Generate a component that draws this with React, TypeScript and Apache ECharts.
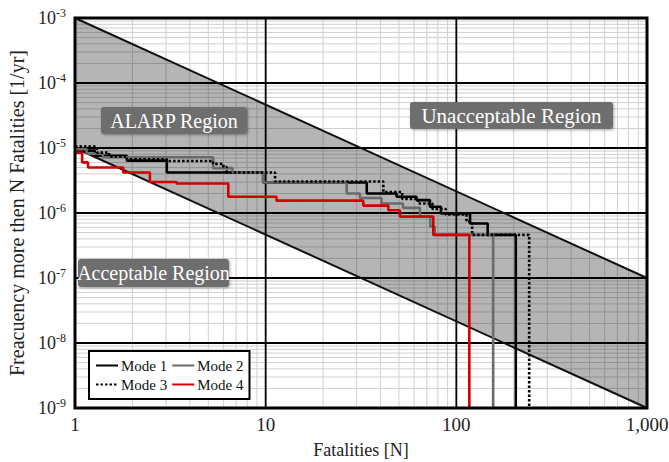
import React, { useEffect, useRef } from "react";
import * as echarts from "echarts";

// F-N step curves: [N fatalities, frequency of >= N fatalities per year]
const mode1: [number, number][] = [
  [1, 9.1e-6], [1.27, 7.6e-6], [1.87, 6.4e-6], [3.03, 4.2e-6], [9.7, 2.95e-6],
  [33.9, 2.0e-6], [48.6, 1.78e-6], [61.9, 1.58e-6], [72.7, 1.25e-6], [83, 9.8e-7],
  [118, 6.9e-7], [146, 4.6e-7], [205, 4.6e-7], [205, 1e-9],
];
const mode2: [number, number][] = [
  [1, 9.6e-6], [1.15, 8.2e-6], [1.4, 7.2e-6], [5.3, 4.9e-6], [6.7, 4.2e-6],
  [9.7, 2.95e-6], [26.6, 2.0e-6], [31.2, 1.7e-6], [40.5, 1.4e-6], [52.5, 1.2e-6],
  [64.4, 8.8e-7], [73, 6.2e-7], [77, 4.6e-7], [156, 4.6e-7], [156, 1e-9],
];
const mode3: [number, number][] = [
  [1, 1.05e-5], [1.3, 8.5e-6], [1.51, 7.4e-6], [1.87, 6.7e-6], [3.03, 6.3e-6],
  [5.3, 5.7e-6], [6.0, 5.1e-6], [6.25, 4.2e-6], [11.2, 3.05e-6], [41.4, 2.1e-6],
  [52, 1.65e-6], [63, 1.4e-6], [75, 1.15e-6], [88, 9.5e-7], [113, 7.4e-7],
  [121, 4.6e-7], [241, 4.6e-7], [241, 1e-9],
];
const mode4: [number, number][] = [
  [1, 8.5e-6], [1.09, 6.0e-6], [1.17, 5.0e-6], [1.79, 4.2e-6], [2.47, 3.0e-6],
  [3.41, 2.85e-6], [6.37, 1.78e-6], [11.4, 1.55e-6], [32.5, 1.3e-6], [44, 1.1e-6],
  [50.6, 8.8e-7], [75.7, 4.6e-7], [117, 4.6e-7], [117, 1e-9],
];

// ALARP band criterion lines
const upperLine: [number, number][] = [[1, 1e-3], [1000, 1e-7]];
const lowerLine: [number, number][] = [[1, 1e-5], [1000, 1e-9]];

const xMin = 1, xMax = 1000, yMin = 1e-9, yMax = 1e-3;
const xDecades = [1, 10, 100];
const yDecades = [1e-9, 1e-8, 1e-7, 1e-6, 1e-5, 1e-4];
const minorMultipliers = [2, 3, 4, 5, 6, 7, 8, 9];
const xTickLabels: Record<number, string> = { 1: "1", 10: "10", 100: "100", 1000: "1,000" };

const seriesNames = ["Mode 1", "Mode 2", "Mode 3", "Mode 4"];

const FONT = "'Liberation Serif', 'DejaVu Serif', serif";

function vLines(name: string, values: number[], color: string, width: number, z: number) {
  return {
    type: "custom", name, silent: true, z,
    data: values.map((v) => [v, yMin]),
    renderItem: (_p: any, api: any) => {
      const a = api.coord([api.value(0), yMin]);
      const b = api.coord([api.value(0), yMax]);
      return { type: "line", shape: { x1: a[0], y1: a[1], x2: b[0], y2: b[1] }, style: { stroke: color, lineWidth: width } };
    },
  };
}
function hLines(name: string, values: number[], color: string, width: number, z: number) {
  return {
    type: "custom", name, silent: true, z,
    data: values.map((v) => [xMin, v]),
    renderItem: (_p: any, api: any) => {
      const a = api.coord([xMin, api.value(1)]);
      const b = api.coord([xMax, api.value(1)]);
      return { type: "line", shape: { x1: a[0], y1: a[1], x2: b[0], y2: b[1] }, style: { stroke: color, lineWidth: width } };
    },
  };
}

export default function App() {
  const ref = useRef<HTMLDivElement>(null);
  useEffect(() => {
    if (!ref.current) return;
    const chart = echarts.init(ref.current, undefined, { renderer: "svg" });

    const minorX: number[] = [];
    xDecades.forEach((d) => minorMultipliers.forEach((m) => minorX.push(d * m)));
    const minorY: number[] = [];
    yDecades.forEach((d) => minorMultipliers.forEach((m) => minorY.push(d * m)));

    const option: any = {
      animation: false,
      backgroundColor: "#fff",
      grid: {
        left: 75, right: 22, top: 18, bottom: 54,
        containLabel: false, outerBoundsMode: "none",
        show: true, borderColor: "#000", borderWidth: 3, backgroundColor: "transparent", z: 10,
      },
      xAxis: {
        type: "log", logBase: 10, min: xMin, max: xMax, splitNumber: 3,
        name: "Fatalities [N]", nameLocation: "middle", nameGap: 33,
        nameTextStyle: { fontFamily: FONT, fontSize: 18, color: "#222" },
        axisLine: { show: false }, axisTick: { show: false },
        axisLabel: {
          fontFamily: FONT, fontSize: 19, color: "#222", margin: 7,
          formatter: (v: number) => xTickLabels[Math.round(v)] ?? String(v),
        },
        splitLine: { show: false },
      },
      yAxis: {
        type: "log", logBase: 10, min: yMin, max: yMax, splitNumber: 6,
        name: "Freacuency more then N Fatalities [1/yr]", nameLocation: "middle", nameGap: 45,
        nameTextStyle: { fontFamily: FONT, fontSize: 20, color: "#222" },
        axisLine: { show: false }, axisTick: { show: false },
        axisLabel: {
          margin: 9, color: "#222",
          formatter: (v: number) => `{b|10}{s|${Math.round(Math.log10(v))}}`,
          rich: {
            b: { fontFamily: FONT, fontSize: 18, color: "#222" },
            s: { fontFamily: FONT, fontSize: 12, color: "#222", padding: [0, 0, 10, 0] },
          },
        },
        splitLine: { show: false },
      },
      legend: {
        data: seriesNames,
        left: 89, top: 351, width: 150,
        padding: [7, 6, 7, 6], itemGap: 4,
        itemWidth: 22, itemHeight: 10,
        itemStyle: { opacity: 0 },
        borderColor: "#000", borderWidth: 2, backgroundColor: "#fff",
        textStyle: { fontFamily: FONT, fontSize: 15, color: "#111", padding: [0, 0, 0, -2] },
        z: 20,
      },
      series: [
        vLines("minorX", minorX, "#cfcfcf", 1, 1),
        hLines("minorY", minorY, "#cfcfcf", 1, 1),
        vLines("majorX", xDecades.slice(1), "#000", 1.8, 1.5),
        hLines("majorY", yDecades.slice(1), "#000", 1.8, 1.5),
        {
          type: "custom", name: "band", silent: true, z: 2,
          data: [[xMin, yMax]],
          renderItem: (_p: any, api: any) => {
            const pts = [upperLine[0], upperLine[1], lowerLine[1], lowerLine[0]].map((p) => api.coord(p));
            return { type: "polygon", shape: { points: pts }, style: { fill: "rgba(0,0,0,0.29)" } };
          },
        },
        {
          type: "line", name: "upper", data: upperLine, symbol: "none", z: 3, silent: true,
          lineStyle: { color: "#111", width: 2 },
        },
        {
          type: "line", name: "lower", data: lowerLine, symbol: "none", z: 3, silent: true,
          lineStyle: { color: "#111", width: 2 },
        },
        {
          type: "line", name: "Mode 1", data: mode1, step: "end", symbol: "none", z: 5,
          color: "#000", lineStyle: { color: "#000", width: 2.6 },
        },
        {
          type: "line", name: "Mode 2", data: mode2, step: "end", symbol: "none", z: 6,
          color: "#6a6a6a", lineStyle: { color: "#6a6a6a", width: 2.6 },
        },
        {
          type: "line", name: "Mode 3", data: mode3, step: "end", symbol: "none", z: 7,
          color: "#000", lineStyle: { color: "#000", width: 2.6, type: [2.5, 2] },
        },
        {
          type: "line", name: "Mode 4", data: mode4, step: "end", symbol: "none", z: 8,
          color: "#d20000", lineStyle: { color: "#d20000", width: 2.6 },
        },
      ],
      graphic: [
        { x: 101, y: 107, w: 146, h: 27, t: "ALARP Region", fs: 20 },
        { x: 410, y: 102, w: 203, h: 27, t: "Unacceptable Region", fs: 21 },
        { x: 78, y: 259, w: 151, h: 28, t: "Acceptable Region", fs: 20 },
      ].map((b) => ({
        type: "group", x: b.x, y: b.y, z: 100,
        children: [
          {
            type: "rect", z: 100, shape: { x: 0, y: 0, width: b.w, height: b.h, r: 3 },
            style: { fill: "#6e6e6e", shadowBlur: 3, shadowColor: "rgba(0,0,0,0.35)", shadowOffsetX: 1, shadowOffsetY: 1 },
          },
          {
            type: "text", z: 101, x: b.w / 2, y: b.h / 2,
            style: { text: b.t, fill: "#fff", font: `${b.fs}px ${FONT}`, align: "center", verticalAlign: "middle" },
          },
        ],
      })),
    };
    chart.setOption(option);
    return () => chart.dispose();
  }, []);
  return <div ref={ref} style={{ width: 669, height: 462, position: "absolute", left: 0, top: 0 }} />;
}
